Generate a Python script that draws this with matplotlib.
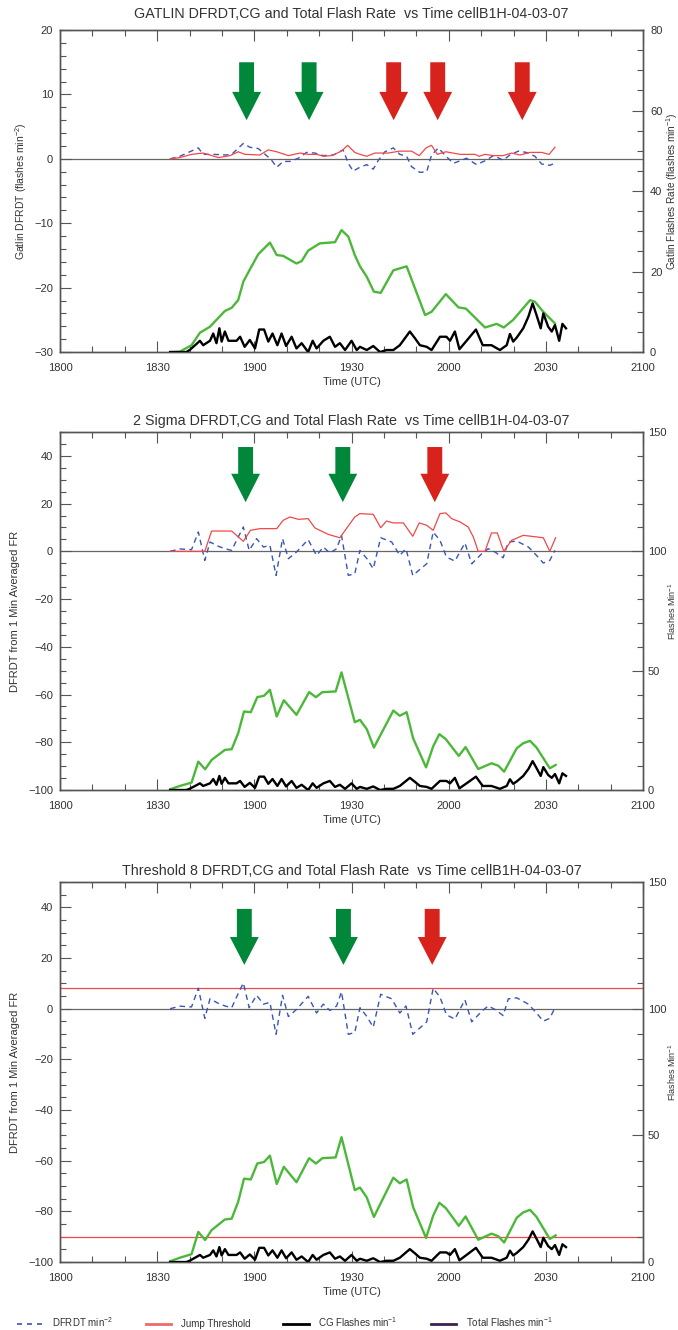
import numpy as np
import matplotlib
matplotlib.use("Agg")
import matplotlib.pyplot as plt
from matplotlib.lines import Line2D
from matplotlib.patches import FancyArrow
from matplotlib.ticker import MultipleLocator

plt.rcParams['font.family'] = ['Liberation Sans', 'DejaVu Sans']
plt.rcParams['mathtext.default'] = 'regular'

# time axis: minutes after 1800 UTC
xtick_labels = ['1800', '1830', '1900', '1930', '2000', '2030', '2100']

# CG flashes per minute (shared by all panels)
cg_t = [34, 39, 40, 41.7, 43.2, 44.2, 46.3, 47.3, 48.3, 49.2,
        49.9, 50.9, 52, 54.5, 55.6, 57, 58.6, 60.2, 61.5, 63,
        64.3, 65.6, 67.1, 68.4, 69.8, 71.5, 73, 74.6, 76.6, 78,
        79.2, 81.3, 83.3, 84.9, 86.4, 88, 90, 91.6, 92.6, 94.7,
        96.7, 98.8, 100.8, 102.9, 104.9, 108, 109.6, 111.1, 113.2, 114.7,
        117.3, 119.3, 120.4, 121.9, 123.3, 125.5, 128.4, 130.5, 133.2, 135.8,
        137.9, 138.9, 139.9, 141, 143, 144.6, 145.9, 147.1, 148.4, 149.2,
        150.7, 151.8, 152.8, 154.1, 155.1, 156.2]
cg_v = [0, 0, 0.5, 1.7, 2.8, 1.7, 2.8, 4.6, 2.2, 5.9,
        2.6, 5.1, 2.8, 2.8, 3.8, 1.3, 3.0, 0.9, 5.6, 5.6,
        2.6, 4.6, 1.7, 4.6, 1.5, 3.8, 0.9, 2.2, 0, 2.8,
        0.9, 2.8, 3.8, 1.3, 2.2, 0.5, 2.8, 0.5, 1.3, 0.5,
        1.5, 0, 0.5, 0.5, 1.7, 5.1, 3.4, 1.7, 1.3, 0.5,
        3.8, 3.8, 2.8, 5.1, 0.7, 2.8, 5.6, 1.7, 1.7, 0.5,
        1.7, 4.5, 2.6, 3.6, 5.9, 8.8, 12.1, 9.2, 5.9, 9.6,
        6.3, 5.1, 6.7, 2.8, 7.0, 5.9]

# Gatlin panel: total flash rate, DFRDT and jump threshold
gat_tot_t = [34, 37, 40.6, 43.2, 46.3, 50.9, 53, 55, 56.6, 58.6,
             61.2, 64.8, 66.9, 68.9, 73, 74.6, 76.6, 80.2, 84.9, 86.9,
             89, 91, 92.6, 94.7, 96.9, 99, 102.9, 107, 112.7, 114.7,
             119.1, 123, 125.3, 131.2, 134.8, 137, 139.9, 145.1, 146.6, 149.2,
             152.8]
gat_tot_v = [0, 0.1, 1.7, 4.8, 6.3, 10.2, 11, 12.9, 17.5, 20.5,
             24.3, 27.2, 24.1, 23.9, 22, 22.6, 25.2, 27, 27.3, 30.3,
             28.7, 24.1, 21.3, 18.7, 15, 14.7, 20.3, 21.3, 9.2, 10,
             14.4, 11.1, 10.8, 6.1, 7, 6.1, 8, 12.9, 12.5, 10,
             7.1]

gat_d_t = [34, 37, 42.7, 44.2, 47.3, 51.4, 53, 56.6, 58.6, 61.2,
           63.8, 65.3, 66.9, 68.9, 71, 73.6, 76.1, 78.7, 81.3, 84.4,
           87.4, 89, 90.5, 92.6, 94.7, 96.7, 98.3, 100.3, 102.9, 104.9,
           107, 108.5, 111.1, 113.2, 114.7, 116.8, 118.8, 121.4, 123.5, 125.5,
           128.6, 131.2, 133.8, 136.8, 138.9, 141.5, 144, 146.6, 148.7, 151.2,
           152.2]
gat_d_v = [0, 0.4, 1.7, 0.7, 0.7, 0.6, 0.7, 2.4, 1.8, 1.6,
           0.5, -0.2, -1.3, -0.4, -0.4, 0.1, 1.0, 0.9, 0.5, 0.6,
           1.4, -0.7, -1.9, -1.3, -0.9, -1.6, -0.2, 1.1, 1.7, 0.7,
           0.4, -1.2, -2.1, -2.0, 0.6, 1.7, 0.6, -0.7, -0.3, 0.1,
           -0.9, -0.3, 0.5, -0.2, 0.6, 1.2, 1.0, 0.4, -0.8, -1.0,
           -0.8]

gat_thr_t = [34, 37, 40.6, 44.2, 48.9, 52.5, 55, 57.1, 61.7, 64.3,
             66.9, 70.5, 74.1, 76.6, 79.2, 81.3, 83.8, 86.9, 88.8, 91,
             92.6, 94.7, 97.2, 101.3, 104.9, 108.5, 110.9, 113, 114.7, 116.5,
             119.1, 123.5, 128.1, 129.4, 131.2, 133.8, 136.8, 139.4, 142, 145.1,
             148.7, 151, 152.8]
gat_thr_v = [0, 0.2, 0.7, 0.9, 0.2, 0.5, 1.1, 0.7, 0.6, 1.4,
             1.1, 0.5, 0.9, 0.7, 0.7, 0.4, 0.5, 1.2, 2.1, 1.0,
             0.7, 0.4, 0.9, 0.9, 1.2, 1.2, 0.5, 1.7, 2.1, 0.7,
             1.1, 0.7, 0.7, 0.4, 0.7, 0.5, 0.5, 0.9, 0.6, 1.0,
             1.0, 0.7, 1.8]

# 1 min averaged total flash rate and DFRDT (panels 2 and 3)
tot_t = [34, 37, 40.6, 42.7, 44.8, 46.8, 50.9, 53, 55, 56.8,
         58.9, 60.9, 63, 64.8, 66.9, 69.1, 73, 76.9, 79, 81,
         85.1, 86.9, 91, 92.6, 94.7, 96.9, 102.9, 104.9, 107, 109,
         113, 115.2, 117.1, 119.1, 123.1, 125.2, 129.1, 133.2, 135.3, 137.1,
         141, 143, 145.1, 147.1, 151.2, 153]
tot_v = [0.3, 1.7, 3.1, 11.9, 8.7, 12.6, 16.8, 17.1, 23.8, 32.9,
         32.6, 38.9, 39.5, 42, 30.8, 37.6, 31.5, 41, 38.9, 41,
         41.3, 49.3, 28.4, 29.4, 25.5, 17.8, 33.3, 31.1, 32.6, 21.7,
         9.5, 18.3, 23.4, 21.3, 14.3, 18, 8.8, 11.2, 10.2, 7.7,
         17.5, 19.6, 20.6, 17.8, 9.1, 10.5]

d_t = [34, 37, 40.6, 42.7, 44.7, 46.3, 48.9, 50.9, 53, 54.5,
       56.6, 58.4, 60.7, 62.8, 64.8, 66.7, 68.7, 70.5, 73, 76.6,
       79.2, 81.3, 83.3, 85.4, 86.9, 89, 91, 92.6, 94.7, 96.7,
       99, 102.4, 104.9, 106.8, 108.9, 113.2, 115.2, 117.3, 119.3, 121.9,
       125, 127.1, 130.2, 132.2, 134.3, 136.8, 138.4, 141, 144.6, 147.1,
       149.2, 151.2, 152.8]
d_v = [0, 1, 0.7, 8.1, -3.8, 3.9, 2.1, 1.1, 0.4, 4.6,
       10.2, 0.4, 5.3, 1.8, 2.5, -10.1, 5.3, -3.1, -0.3, 4.9,
       -1.7, 1.8, -0.7, 1.1, 6.7, -10.1, -9.4, 0.4, -3.0, -7.3,
       5.7, 3.9, -1.7, 1.1, -10.1, -5.2, 8.1, 4.6, -2.4, -4.1,
       3.5, -5.2, -1.0, 1.1, -0.3, -2.7, 3.9, 4.3, 1.8, -1.7,
       -4.9, -3.8, 0.4]

# 2 sigma jump threshold
sig_t = [34, 44.7, 46.8, 53, 56.6, 58.8, 61.7, 66.9, 68.9, 71,
         73.6, 76.6, 78.7, 82.8, 86.4, 91, 92.6, 96.7, 99, 100.8,
         102.9, 106, 108.9, 110.9, 113.2, 115.2, 117.3, 119.1, 120.9, 123.5,
         126, 127.6, 129.1, 131.2, 133.2, 135, 137, 139.4, 143, 149.2,
         151.2, 153]
sig_v = [0, 0, 8.5, 8.5, 4.2, 8.8, 9.5, 9.5, 13, 14.4,
         13.4, 13.7, 9.8, 7.1, 5.7, 14.4, 15.8, 15.5, 9.9, 12.7,
         11.9, 11.9, 6.3, 11.9, 10.9, 8.8, 15.8, 16.1, 13.7, 12.3,
         10.2, 6.0, 0, 0, 7.7, 7.7, 0, 4.6, 6.7, 5.7,
         0, 5.7]

# fixed thresholds for the third panel
fixed_thr = [8, -90]

# arrow times (minutes after 1800)
arrows_gatlin = [(57.6, 'g'), (76.9, 'g'), (103, 'r'), (116.6, 'r'), (142.7, 'r')]
arrows_sigma = [(57.3, 'g'), (87.3, 'g'), (115.7, 'r')]
arrows_thresh = [(56.9, 'g'), (87.5, 'g'), (114.9, 'r')]

GREEN_ARROW = '#00873a'
RED_ARROW = '#d7231c'
TXT = '#333333'
SPINE = '#555555'


def style_axes(ax, ax2, ylim, ymaj, ymin, ylim2, ymaj2, ymin2, rpad=5):
    ax.set_xlim(0, 180)
    ax.set_xticks(np.arange(0, 181, 30))
    ax.set_xticklabels(xtick_labels)
    ax.xaxis.set_minor_locator(MultipleLocator(10))
    ax.set_ylim(*ylim)
    ax.yaxis.set_major_locator(MultipleLocator(ymaj))
    ax.yaxis.set_minor_locator(MultipleLocator(ymin))
    ax2.set_ylim(*ylim2)
    ax2.yaxis.set_major_locator(MultipleLocator(ymaj2))
    ax2.yaxis.set_minor_locator(MultipleLocator(ymin2))
    for a in (ax, ax2):
        a.tick_params(which='both', direction='in', colors=SPINE,
                      labelcolor=TXT, labelsize=8, width=0.8)
        a.tick_params(which='major', length=8)
        a.tick_params(which='minor', length=4)
        for s in a.spines.values():
            s.set_color(SPINE)
            s.set_linewidth(1.0)
    ax.tick_params(axis='x', which='both', top=True)
    ax.tick_params(axis='x', pad=8)
    ax.tick_params(axis='y', pad=5)
    ax2.tick_params(axis='y', pad=rpad)
    ax.set_xlabel('Time (UTC)', fontsize=8, color=TXT, labelpad=3)


def draw_arrows(ax, arrows, y_top, y_tip, head_len):
    for t, c in arrows:
        col = GREEN_ARROW if c == 'g' else RED_ARROW
        ax.add_patch(FancyArrow(t, y_top, 0, y_tip - y_top, width=4.6,
                                head_width=8.9, head_length=head_len,
                                length_includes_head=True, color=col,
                                lw=0, zorder=5))


fig = plt.figure(figsize=(6.78, 13.30), dpi=100)
L, W = 0.0885, 0.860

# ---- panel 1: Gatlin ----
ax = fig.add_axes([L, 0.7353, W, 0.2421])
ax2 = ax.twinx()
style_axes(ax, ax2, (-30, 20), 10, 2, (0, 80), 20, 5)
ax.axhline(0, color='#666666', lw=0.9, zorder=1)
ax.plot(gat_d_t, gat_d_v, color='#3a55b4', lw=1.0, ls=(0, (4, 3)), zorder=3)
ax.plot(gat_thr_t, gat_thr_v, color='#f04848', lw=0.9, zorder=3)
ax2.plot(gat_tot_t, gat_tot_v, color='#4cb83a', lw=1.7, zorder=3)
ax2.plot(cg_t, cg_v, color='black', lw=1.7, zorder=4)
draw_arrows(ax, arrows_gatlin, 15, 6.0, 4.4)
ax.set_title('GATLIN DFRDT,CG and Total Flash Rate  vs Time cellB1H-04-03-07',
             fontsize=10.3, color=TXT, pad=9)
ax.set_ylabel('Gatlin DFRDT (flashes min$^{-2}$)', fontsize=7.5, color=TXT, labelpad=4)
ax2.set_ylabel('Gatlin Flashes Rate (flashes min$^{-1}$)', fontsize=7.2, color=TXT, labelpad=1)

# ---- panels 2 and 3 ----
panels = [
    (0.4060, 0.2692, '2 Sigma DFRDT,CG and Total Flash Rate  vs Time cellB1H-04-03-07',
     arrows_sigma, 43.7, 20.6, 11.9),
    (0.0511, 0.2857, 'Threshold 8 DFRDT,CG and Total Flash Rate  vs Time cellB1H-04-03-07',
     arrows_thresh, 39.4, 17.3, 11.0),
]
for i, (bot, h, title, arrows, ytop, ytip, hl) in enumerate(panels):
    ax = fig.add_axes([L, bot, W, h])
    ax2 = ax.twinx()
    style_axes(ax, ax2, (-100, 50), 20, 5, (0, 150), 50, 10, rpad=3.5)
    ax.axhline(0, color='#666666', lw=0.9, zorder=1)
    ax.plot(d_t, d_v, color='#3a55b4', lw=1.0, ls=(0, (4, 3)), zorder=3)
    if i == 0:
        ax.plot(sig_t, sig_v, color='#f04848', lw=0.9, zorder=3)
    else:
        for y in fixed_thr:
            ax.axhline(y, color='#f04848', lw=0.9, zorder=2)
    ax2.plot(tot_t, tot_v, color='#4cb83a', lw=1.7, zorder=3)
    ax2.plot(cg_t, cg_v, color='black', lw=1.7, zorder=4)
    draw_arrows(ax, arrows, ytop, ytip, hl)
    ax.set_title(title, fontsize=10.3, color=TXT, pad=5)
    ax.set_ylabel('DFRDT from 1 Min Averaged FR', fontsize=8, color=TXT, labelpad=6)
    ax2.set_ylabel('Flashes Min$^{-1}$', fontsize=6.5, color=TXT, labelpad=0)

# ---- legend ----
handles = [
    Line2D([], [], color='#3a55b4', lw=1.2, ls=(0, (3, 3))),
    Line2D([], [], color='#ee6a6a', lw=2),
    Line2D([], [], color='black', lw=2),
    Line2D([], [], color='#3d2050', lw=2),
]
labels = ['DFRDT min$^{-2}$', 'Jump Threshold', 'CG Flashes min$^{-1}$',
          'Total Flashes min$^{-1}$']
fig.legend(handles, labels, loc='lower left', bbox_to_anchor=(0.012, -0.006),
           ncol=4, frameon=False, fontsize=7, handlelength=2.6,
           handletextpad=1.0, columnspacing=3.4, labelcolor=TXT)

fig.savefig('out.png', dpi=100)
